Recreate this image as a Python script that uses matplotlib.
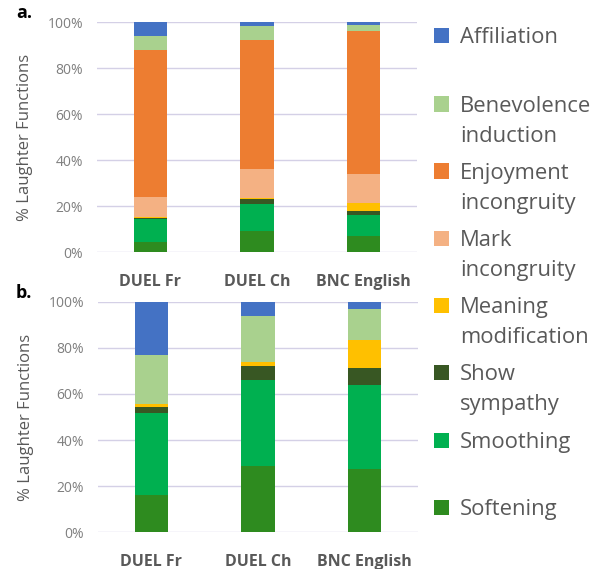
import matplotlib.pyplot as plt
import matplotlib.patches as mpatches
import numpy as np

plt.rcParams['font.family'] = ['Open Sans', 'DejaVu Sans']

# data (percent of laughter functions), bottom to top
corpora = ['DUEL Fr', 'DUEL Ch', 'BNC English']
functions = ['Softening', 'Smoothing', 'Show sympathy', 'Meaning modification',
             'Mark incongruity', 'Enjoyment incongruity', 'Benevolence induction', 'Affiliation']
colours = ['#2e8b1f', '#00b050', '#385723', '#ffc000',
           '#f4b183', '#ed7d31', '#a9d18e', '#4472c4']

# panel a
softening_a = [4.4, 9.2, 6.8]
smoothing_a = [10.1, 11.6, 9.5]
sympathy_a = [0.3, 2.2, 1.6]
meaning_a = [0.3, 0.3, 3.5]
mark_a = [8.8, 13.0, 12.3]
enjoyment_a = [64.1, 55.7, 62.2]
benevolence_a = [5.7, 6.1, 2.9]
affiliation_a = [6.3, 1.9, 1.2]

# panel b
softening_b = [16.1, 28.8, 27.3]
smoothing_b = [35.5, 37.5, 36.7]
sympathy_b = [2.6, 5.8, 7.1]
meaning_b = [1.5, 1.9, 12.3]
mark_b = [0, 0, 0]
enjoyment_b = [0, 0, 0]
benevolence_b = [21.2, 20.0, 13.5]
affiliation_b = [23.1, 6.0, 3.1]

series_a = [softening_a, smoothing_a, sympathy_a, meaning_a, mark_a, enjoyment_a, benevolence_a, affiliation_a]
series_b = [softening_b, smoothing_b, sympathy_b, meaning_b, mark_b, enjoyment_b, benevolence_b, affiliation_b]

legend_labels = ['Affiliation', 'Benevolence\ninduction', 'Enjoyment\nincongruity', 'Mark\nincongruity',
                 'Meaning\nmodification', 'Show\nsympathy', 'Smoothing', 'Softening']
legend_colours = colours[::-1]

text_grey = '#595959'
W, H = 603, 569
fig = plt.figure(figsize=(W / 100, H / 100), dpi=100)

ax_a = fig.add_axes([97 / W, (H - 252) / H, 320 / W, 230 / H])
ax_b = fig.add_axes([98 / W, (H - 532) / H, 320 / W, 230 / H])

x = np.arange(len(corpora))
for ax, series in [(ax_a, series_a), (ax_b, series_b)]:
    bottom = np.zeros(len(corpora))
    for vals, c in zip(series, colours):
        ax.bar(x, vals, bottom=bottom, width=0.31, color=c, linewidth=0, zorder=3)
        bottom += np.array(vals)
    ax.set_xlim(-0.5, 2.5)
    ax.set_ylim(0, 100)
    ax.set_yticks(np.arange(0, 101, 20))
    ax.set_yticklabels([f'{v}%' for v in range(0, 101, 20)], fontsize=10, color='#7f7f7f')
    ax.set_xticks(x)
    ax.set_xticklabels(corpora, fontsize=11.5, fontweight='bold', color=text_grey)
    ax.tick_params(axis='both', length=0)
    ax.tick_params(axis='y', pad=10)
    ax.tick_params(axis='x', pad=16)
    ax.yaxis.grid(True, color='#d4d0e6', linewidth=1, zorder=0)
    for s in ax.spines.values():
        s.set_visible(False)
    ax.set_ylabel('% Laughter Functions', fontsize=12, color=text_grey)
    ax.yaxis.set_label_coords(-0.2, 0.5)

fig.text(16 / W, 1 - 13 / H, 'a.', fontsize=13, fontweight='bold', va='center', ha='left')
fig.text(16 / W, 1 - 293 / H, 'b.', fontsize=13, fontweight='bold', va='center', ha='left')

# legend drawn by hand to keep the uneven row spacing (baselines in px from top)
row_base = [43, 111.5, 178.5, 246, 313, 380, 448, 515]
sq = 15
for lab, c, yb in zip(legend_labels, legend_colours, row_base):
    fig.add_artist(mpatches.Rectangle((434 / W, 1 - yb / H), sq / W, sq / H,
                                      transform=fig.transFigure, color=c, linewidth=0))
    for i, line in enumerate(lab.split('\n')):
        fig.text(460 / W, 1 - (yb + i * 30) / H, line, fontsize=15.8, color=text_grey,
                 va='baseline', ha='left')

fig.savefig('out.png', dpi=100)
